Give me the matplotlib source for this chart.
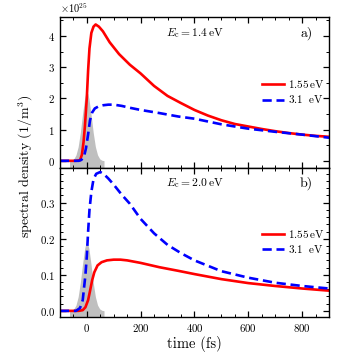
import numpy as np
import matplotlib
matplotlib.use("Agg")
import matplotlib.pyplot as plt
from matplotlib.ticker import MultipleLocator

plt.rcParams['font.family'] = 'serif'
plt.rcParams['font.serif'] = ['cmr10', 'DejaVu Serif']
plt.rcParams['mathtext.fontset'] = 'cm'
plt.rcParams['axes.formatter.use_mathtext'] = True
plt.rcParams['axes.unicode_minus'] = False

# panel a) E_c = 1.4 eV, values in 1e25 / m^3
t_red_a = [-100, -40, -25, -18, -12, -7, 0, 5, 10, 17, 25, 33, 45, 60, 85, 120, 160, 200,
           250, 300, 350, 400, 450, 500, 550, 600, 650, 700, 750, 800, 850, 900]
red_a = [0, 0, 0.02, 0.2, 0.6, 1.1, 2.0, 2.9, 3.6, 4.1, 4.3, 4.37, 4.3, 4.15, 3.8, 3.42, 3.08, 2.8,
         2.4, 2.08, 1.85, 1.63, 1.45, 1.3, 1.18, 1.1, 1.02, 0.95, 0.89, 0.84, 0.8, 0.77]
t_blue_a = [-100, -30, -20, -10, -3, 5, 12, 20, 30, 45, 60, 80, 100, 130, 160, 200, 270, 340,
            400, 500, 600, 700, 800, 900]
blue_a = [0, 0, 0.03, 0.15, 0.4, 0.85, 1.3, 1.55, 1.68, 1.75, 1.78, 1.8, 1.8, 1.76, 1.7, 1.63,
          1.53, 1.42, 1.35, 1.17, 1.03, 0.93, 0.84, 0.74]

# panel b) E_c = 2.0 eV
t_red_b = [-100, -30, -15, -5, 5, 12, 20, 28, 40, 55, 75, 100, 125, 150, 200, 270, 340, 400,
           500, 600, 700, 800, 900]
red_b = [0, 0, 0.002, 0.01, 0.03, 0.055, 0.085, 0.107, 0.126, 0.135, 0.14, 0.142, 0.142, 0.14,
         0.133, 0.121, 0.111, 0.102, 0.088, 0.077, 0.069, 0.062, 0.056]
t_blue_b = [-100, -40, -25, -15, -5, 0, 5, 10, 17, 25, 35, 50, 65, 80, 100, 130, 160, 200, 250,
            300, 350, 400, 500, 600, 700, 800, 900]
blue_b = [0, 0, 0.008, 0.03, 0.1, 0.15, 0.22, 0.28, 0.33, 0.365, 0.38, 0.385, 0.378, 0.367,
          0.35, 0.322, 0.297, 0.255, 0.215, 0.183, 0.16, 0.14, 0.11, 0.092, 0.078, 0.069, 0.062]

# laser pulse envelope (grey)
t_pulse = [-64, -56, -48, -40, -32, -24, -16, -8, -4, 0, 4, 8, 16, 24, 32, 40, 48, 56, 64]
pulse_a = [0.004, 0.018, 0.064, 0.19, 0.45, 0.90, 1.48, 1.99, 2.15, 2.2, 2.15, 1.99, 1.48, 0.90,
           0.45, 0.19, 0.064, 0.018, 0.004]
pulse_b = [0.0004, 0.0015, 0.0055, 0.016, 0.039, 0.078, 0.128, 0.172, 0.185, 0.19, 0.185, 0.172,
           0.128, 0.078, 0.039, 0.016, 0.0055, 0.0015, 0.0004]

labels = [r'$1.55\,\mathrm{eV}$', r'$3.1\enspace\,\mathrm{eV}$']

fig = plt.figure(figsize=(3.46, 3.53), dpi=100)
ax1 = fig.add_axes([0.173, 0.525, 0.778, 0.426])
ax2 = fig.add_axes([0.173, 0.103, 0.778, 0.422])

scale = 1e25
ylo_a = -0.22
ax1.fill_between(t_pulse, np.array(pulse_a) * scale, ylo_a * scale, color='#bfbfbf', lw=0)
ax1.plot(t_red_a, np.array(red_a) * scale, color='red', lw=1.9, label=labels[0])
ax1.plot(t_blue_a, np.array(blue_a) * scale, color='blue', lw=1.9, ls='--', dashes=(3.5, 1.8), label=labels[1])
ax1.set_ylim(ylo_a * scale, 4.6 * scale)

ylo_b = -0.016
ax2.fill_between(t_pulse, pulse_b, ylo_b, color='#bfbfbf', lw=0)
ax2.plot(t_red_b, red_b, color='red', lw=1.9, label=labels[0])
ax2.plot(t_blue_b, blue_b, color='blue', lw=1.9, ls='--', dashes=(3.5, 1.8), label=labels[1])
ax2.set_ylim(ylo_b, 0.397)

for ax, ec, tag in [(ax1, '1.4', 'a)'), (ax2, '2.0', 'b)')]:
    ax.set_xlim(-100, 900)
    ax.xaxis.set_major_locator(MultipleLocator(200))
    ax.xaxis.set_minor_locator(MultipleLocator(50))
    ax.tick_params(which='both', direction='in', top=True, right=True, labelsize=7.8)
    ax.tick_params(which='major', length=4, width=0.9)
    ax.tick_params(which='minor', length=2.2, width=0.7)
    for s in ax.spines.values():
        s.set_linewidth(1.0)
    ax.text(0.395, 0.895, r'$E_\mathrm{c} = ' + ec + r'\,\mathrm{eV}$', transform=ax.transAxes,
            fontsize=8.3, va='center', ha='left')
    ax.text(0.915, 0.895, tag, transform=ax.transAxes, fontsize=10, va='center', ha='center')
    ax.legend(loc='center left', bbox_to_anchor=(0.73, 0.505), frameon=False, fontsize=8,
              handlelength=2.0, handletextpad=0.35, borderpad=0, labelspacing=0.3)

ax1.yaxis.set_major_locator(MultipleLocator(1 * scale))
ax1.yaxis.set_minor_locator(MultipleLocator(0.5 * scale))
ax1.tick_params(labelbottom=False)
ax1.yaxis.get_offset_text().set_fontsize(7.5)

ax2.yaxis.set_major_locator(MultipleLocator(0.1))
ax2.yaxis.set_minor_locator(MultipleLocator(0.02))
ax2.yaxis.set_major_formatter(plt.FuncFormatter(lambda v, p: r'$%.1f$' % v))
ax2.set_xlabel('time (fs)', fontsize=10.5, labelpad=2)

fig.text(0.074, 0.528, r'spectral density $(1/\mathrm{m}^3)$', rotation=90, fontsize=10,
         ha='center', va='center')

fig.savefig('out.png', dpi=100)
